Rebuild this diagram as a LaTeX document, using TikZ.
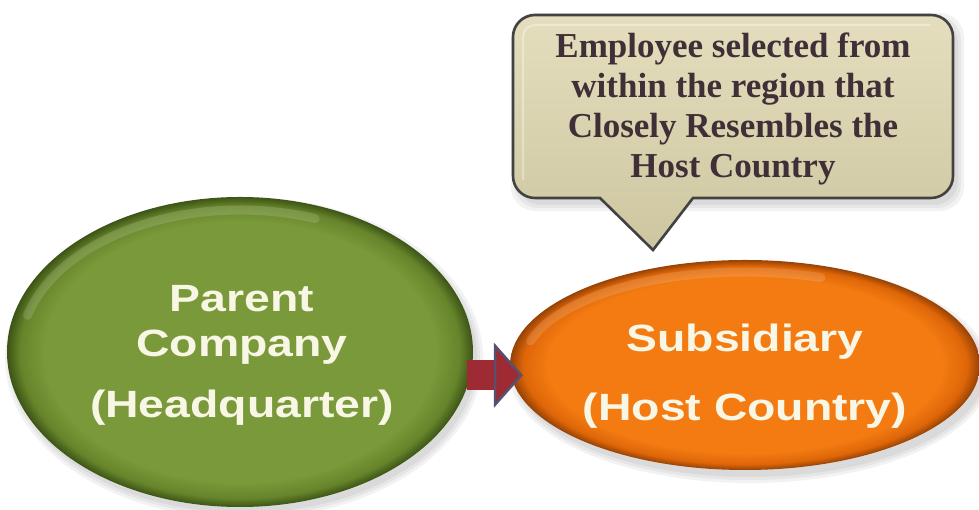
\documentclass[tikz,border=0pt]{standalone}
\usepackage{fontspec}
\usetikzlibrary{shapes.geometric,arrows.meta,calc}
\newfontfamily\ovalfont[FakeStretch=1.22]{Liberation Sans}
\newfontfamily\notefont{Liberation Serif}

% palette
\definecolor{gbase}{RGB}{122,153,58}
\definecolor{gmid}{RGB}{102,132,42}
\definecolor{grim}{RGB}{60,84,22}
\definecolor{obase}{RGB}{243,123,18}
\definecolor{omid}{RGB}{222,102,8}
\definecolor{orim}{RGB}{150,66,6}
\definecolor{notetop}{RGB}{228,222,190}
\definecolor{notebot}{RGB}{205,198,160}
\definecolor{noteline}{RGB}{66,66,66}
\definecolor{notetext}{RGB}{62,48,54}
\definecolor{ovaltext}{RGB}{248,246,228}
\definecolor{arrowred}{RGB}{158,42,52}
\definecolor{arrowslate}{RGB}{88,80,112}

% bevelled fills: flat centre, darker rim
\pgfdeclareradialshading{greenbevel}{\pgfpoint{0bp}{0bp}}{color(0bp)=(gbase); color(21bp)=(gbase); color(23.6bp)=(gmid); color(25bp)=(grim); color(50bp)=(grim)}
\pgfdeclareradialshading{orangebevel}{\pgfpoint{0bp}{0bp}}{color(0bp)=(obase); color(21bp)=(obase); color(23.6bp)=(omid); color(25bp)=(orim); color(50bp)=(orim)}

\tikzset{
  oval/.style={ellipse, inner sep=0pt, shade},
  ovallabel/.style={text=ovaltext, align=center, inner sep=0pt,
    font=\ovalfont\bfseries\fontsize{38}{45}\selectfont},
  notelabel/.style={text=notetext, align=center, inner sep=0pt,
    font=\notefont\bfseries\fontsize{35}{40}\selectfont},
  glint/.style={white, opacity=0.14, line width=9pt, line cap=round},
  softshadow/.style={black, opacity=0.05}
}

\begin{document}
\begin{tikzpicture}[x=1pt, y=1pt]
\useasboundingbox (0,0) rectangle (979,510);

% soft shadows under the shapes
\foreach \g in {0,3,6}{
  \fill[softshadow] (244,152) ellipse[x radius=233+\g, y radius=155+\g];
  \fill[softshadow] (750,138) ellipse[x radius=235+\g, y radius=105+\g];
}
\foreach \g in {0,3,6}{
  \fill[softshadow, rounded corners=24]
    (517-\g,305-\g) rectangle (958+\g,491+\g);
}

% speech bubble
\path[top color=notetop, bottom color=notebot, draw=noteline, line width=2.6pt]
  (535,495) -- (931,495) arc[start angle=90, end angle=0, radius=22]
  -- (953,334) arc[start angle=0, end angle=-90, radius=22]
  -- (693,312) -- (653,260) -- (600,312)
  -- (535,312) arc[start angle=270, end angle=180, radius=22]
  -- (513,473) arc[start angle=180, end angle=90, radius=22] -- cycle;
\draw[white, opacity=0.35, line width=2pt]
  (523,330) -- (523,473) arc[start angle=180, end angle=90, radius=12] -- (930,485);
\node[notelabel] (note) at (733,401)
  {Employee selected from\\within the region that\\Closely Resembles the\\Host Country};

% the two companies
\node[oval, shading=greenbevel, minimum width=466pt, minimum height=310pt]
  (parent) at (240,158) {};
\node[oval, shading=orangebevel, minimum width=470pt, minimum height=210pt]
  (subsid) at (745,145) {};

% highlights along the upper rims
\draw[glint] ([shift={(165:220pt and 142pt)}]parent.center)
  arc[start angle=165, end angle=70, x radius=220pt, y radius=142pt];
\draw[glint] ([shift={(165:222pt and 93pt)}]subsid.center)
  arc[start angle=165, end angle=70, x radius=222pt, y radius=93pt];

\node[ovallabel] (parentlabel) at (242,155)
  {Parent\\Company\\[16pt](Headquarter)};
\node[ovallabel] (subsidlabel) at (745,134)
  {Subsidiary\\[24pt](Host Country)};

% block arrow from parent to subsidiary
\draw[arrowred, line width=30pt,
  -{Triangle[length=29pt, width=65pt, line width=2.5pt, color=arrowslate, fill=arrowred]},
  shorten >=-13pt]
  ($(parent.-5)+(-4,-3)$) -- ($(parent.-5 -| subsid.west)+(0,-3)$);
\end{tikzpicture}
\end{document}
